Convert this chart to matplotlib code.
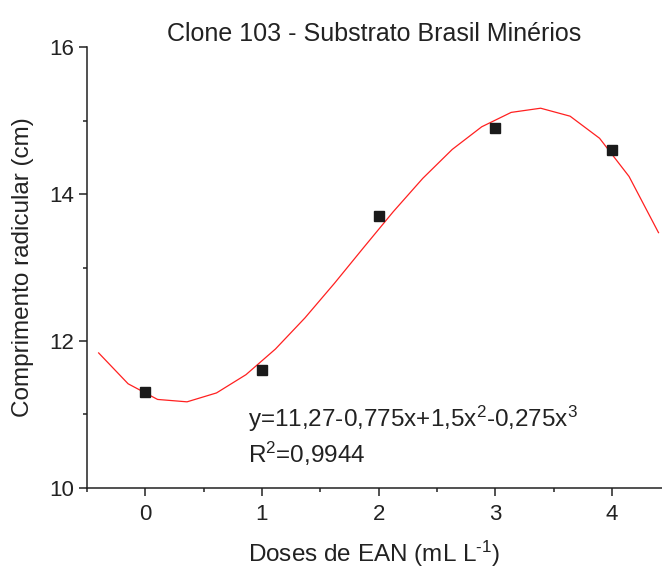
import numpy as np
import matplotlib
matplotlib.use("Agg")
import matplotlib.pyplot as plt
from matplotlib.ticker import MultipleLocator

plt.rcParams['font.family'] = ['Liberation Sans', 'DejaVu Sans']
plt.rcParams['mathtext.fontset'] = 'custom'
plt.rcParams['mathtext.rm'] = 'Liberation Sans'
plt.rcParams['mathtext.it'] = 'Liberation Sans'

# Observed root length per dose
doses = [0, 1, 2, 3, 4]
comprimento = [11.3, 11.6, 13.7, 14.9, 14.6]

# Cubic regression coefficients (b0, b1, b2, b3)
coef = [11.27, -0.775, 1.5, -0.275]
fit_x_range = [-0.4, 4.4]
fit_points = 20

fig = plt.figure(figsize=(6.62, 5.70), dpi=100)
ax = fig.add_axes([0.1314, 0.1439, 0.8686, 0.7736])

xf = np.linspace(fit_x_range[0], fit_x_range[1], fit_points)
yf = coef[0] + coef[1] * xf + coef[2] * xf**2 + coef[3] * xf**3
ax.plot(xf, yf, color='#ff2020', lw=0.9, zorder=2)
ax.plot(doses, comprimento, 's', color='#1a1a1a', markersize=7, zorder=3)

ax.set_xlim(-0.5, 4.43)
ax.set_ylim(10, 16)
ax.xaxis.set_major_locator(MultipleLocator(1))
ax.xaxis.set_minor_locator(MultipleLocator(0.5))
ax.yaxis.set_major_locator(MultipleLocator(2))
ax.yaxis.set_minor_locator(MultipleLocator(1))

for s in ['top', 'right']:
    ax.spines[s].set_visible(False)
for s in ['left', 'bottom']:
    ax.spines[s].set_linewidth(1.1)
    ax.spines[s].set_color('#222222')

ax.tick_params(which='major', direction='out', length=5.5, width=1.1,
               labelsize=16, color='#222222', labelcolor='#222222', pad=4)
ax.tick_params(which='minor', direction='out', length=3, width=1.1, color='#222222')
ax.tick_params(axis='x', pad=6)

ax.set_title('Clone 103 - Substrato Brasil Minérios', fontsize=18, color='#222222', pad=4)
ax.set_xlabel(r'Doses de EAN (mL L$^{\text{-}1}$)', fontsize=17.5, color='#222222', labelpad=10)
ax.set_ylabel('Comprimento radicular (cm)', fontsize=17.5, color='#222222', labelpad=11)

ax.text(0.88, 10.94, r'y=11,27-0,775x+1,5x$^{2}$-0,275x$^{3}$', fontsize=17.5,
        color='#222222', va='center', ha='left')
ax.text(0.88, 10.46, r'R$^{2}$=0,9944', fontsize=17.5, color='#222222',
        va='center', ha='left')

fig.savefig('out.png', dpi=100)
